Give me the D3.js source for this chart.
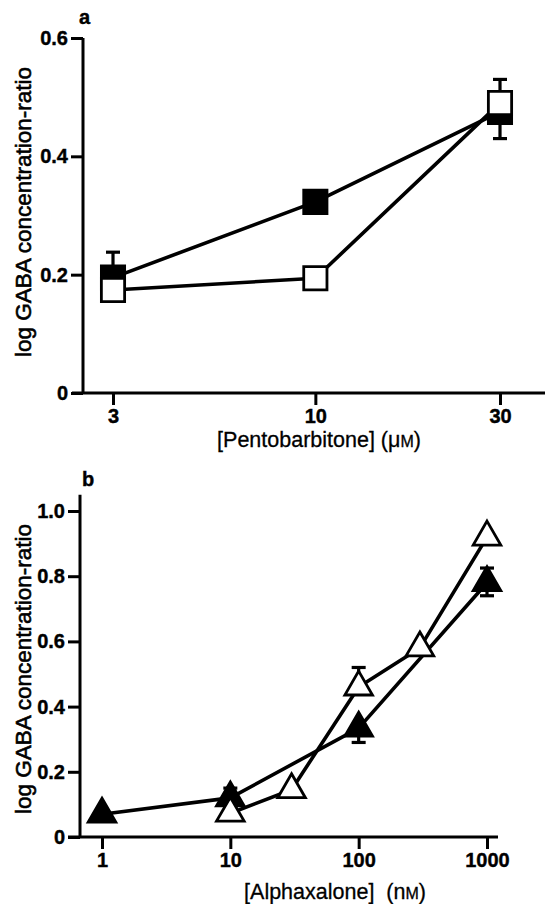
<!DOCTYPE html>
<html lang="en">
<head>
    <meta charset="UTF-8">
    <title>GABA concentration-ratio</title>
    <script src="https://cdnjs.cloudflare.com/ajax/libs/d3/7.8.5/d3.min.js"></script>
    <style>
        body { margin: 0; background: #fff; }
        svg { display: block; }
    </style>
</head>
<body>
    <div id="wrapper"></div>
    <script>
        // panel a: pentobarbitone (uM)
        const pentoDoses = [3, 10, 30]
        const pentoFilled = [0.195, 0.323, 0.475]
        const pentoFilledHi = [0.238, null, null]
        const pentoFilledLo = [null, null, 0.43]
        const pentoOpen = [0.174, 0.194, 0.49]
        const pentoOpenHi = [null, null, 0.53]
        const pentoOpenLo = [null, null, null]
        const pentoXTicks = [3, 10, 30]
        const pentoYTicks = [0, 0.2, 0.4, 0.6]

        // panel b: alphaxalone (nM)
        const alphaFilledDoses = [1, 10, 100, 1000]
        const alphaFilled = [0.07, 0.12, 0.334, 0.78]
        const alphaFilledHi = [null, 0.15, null, 0.825]
        const alphaFilledLo = [null, null, 0.29, 0.74]
        const alphaOpenDoses = [10, 30, 100, 300, 1000]
        const alphaOpen = [0.073, 0.145, 0.46, 0.58, 0.92]
        const alphaOpenHi = [null, null, 0.52, null, null]
        const alphaOpenLo = [null, null, null, null, null]
        const alphaXTicks = [1, 10, 100, 1000]
        const alphaYTicks = [0, 0.2, 0.4, 0.6, 0.8, 1.0]

        const fontFamily = '"Liberation Sans", Arial, Helvetica, sans-serif'

        const svg = d3.select('#wrapper')
            .append('svg')
                .attr('width', 553)
                .attr('height', 904)

        function drawPanel(opts) {
            const g = svg.append('g')
            const x = d3.scaleLog().domain(opts.xDomain).range(opts.xRange)
            const y = d3.scaleLinear().domain(opts.yDomain).range(opts.yRange)

            // axis lines
            g.append('line')
                .attr('x1', opts.axisLeft).attr('x2', opts.axisRight)
                .attr('y1', y(0)).attr('y2', y(0))
                .attr('stroke', '#000').attr('stroke-width', 3)
            g.append('line')
                .attr('x1', opts.yAxisX).attr('x2', opts.yAxisX)
                .attr('y1', y(opts.yTop)).attr('y2', y(0))
                .attr('stroke', '#000').attr('stroke-width', 3)

            const xAxis = g.append('g')
                .attr('transform', `translate(0,${y(0)})`)
                .call(d3.axisBottom(x).tickValues(opts.xTicks).tickFormat(d3.format('d'))
                    .tickSize(12).tickPadding(4))
            const yAxis = g.append('g')
                .attr('transform', `translate(${opts.yAxisX},0)`)
                .call(d3.axisLeft(y).tickValues(opts.yTicks)
                    .tickFormat(d => d === 0 ? '0' : d3.format('.1f')(d))
                    .tickSize(12).tickPadding(3))
            ;[xAxis, yAxis].forEach(ax => {
                ax.select('.domain').remove()
                ax.selectAll('.tick line').attr('stroke', '#000').attr('stroke-width', 3)
                ax.selectAll('.tick text')
                    .attr('fill', '#000')
                    .attr('stroke', '#000').attr('stroke-width', 0.4)
                    .style('font-family', fontFamily)
                    .style('font-weight', 'bold')
                    .style('font-size', '20px')
            })

            // axis titles
            g.append('text')
                .attr('transform', `translate(${opts.yLabelX},${opts.yLabelY}) rotate(-90)`)
                .attr('text-anchor', 'middle')
                .attr('stroke', '#000').attr('stroke-width', 0.6)
                .style('font-family', fontFamily)
                .style('font-size', '22.5px')
                .text('log GABA concentration-ratio')
            const xl = g.append('text')
                .attr('x', opts.xLabelX)
                .attr('y', opts.xLabelY)
                .attr('text-anchor', 'middle')
                .attr('stroke', '#000').attr('stroke-width', 0.3)
                .style('font-family', fontFamily)
                .style('font-size', '21.5px')
                .attr('xml:space', 'preserve')
            xl.append('tspan').text(opts.xLabel)
            xl.append('tspan').style('font-size', '16px').text('M')
            xl.append('tspan').text(')')

            g.append('text')
                .attr('x', opts.letterX)
                .attr('y', opts.letterY)
                .attr('stroke', '#000').attr('stroke-width', 0.4)
                .style('font-family', fontFamily)
                .style('font-weight', 'bold')
                .style('font-size', '20px')
                .text(opts.letter)

            const line = d3.line().x(d => x(d[0])).y(d => y(d[1]))
            const sym = d3.symbol().type(opts.symbol).size(opts.symbolSize)

            opts.series.forEach(s => {
                const pts = s.doses.map((d, i) => [d, s.values[i]])
                g.append('path')
                    .attr('d', line(pts))
                    .attr('fill', 'none')
                    .attr('stroke', '#000')
                    .attr('stroke-width', 3.6)
                    .attr('stroke-linejoin', 'round')
            })

            opts.series.forEach(s => {
                const eg = g.append('g')
                s.doses.forEach((d, i) => {
                    [s.hi[i], s.lo[i]].forEach(end => {
                        if (end === null) return
                        eg.append('line')
                            .attr('x1', x(d)).attr('x2', x(d))
                            .attr('y1', y(s.values[i])).attr('y2', y(end))
                            .attr('stroke', '#000').attr('stroke-width', 3.2)
                        eg.append('line')
                            .attr('x1', x(d) - 7).attr('x2', x(d) + 7)
                            .attr('y1', y(end)).attr('y2', y(end))
                            .attr('stroke', '#000').attr('stroke-width', 3.2)
                    })
                })
                g.selectAll(null)
                    .data(s.doses.map((d, i) => [d, s.values[i]]))
                    .enter().append('path')
                        .attr('d', sym)
                        .attr('transform', d => `translate(${x(d[0])},${y(d[1])})`)
                        .attr('fill', s.filled ? '#000' : '#fff')
                        .attr('stroke', '#000')
                        .attr('stroke-width', 2.8)
            })
        }

        drawPanel({
            xDomain: [3, 30], xRange: [113, 500],
            yDomain: [0, 0.6], yRange: [393, 38],
            yTop: 0.6, yAxisX: 83, axisLeft: 72, axisRight: 545,
            xTicks: pentoXTicks, yTicks: pentoYTicks,
            yLabelX: 31, yLabelY: 212,
            xLabelX: 319, xLabelY: 447, xLabel: '[Pentobarbitone] (\u03bc',
            letter: 'a', letterX: 79, letterY: 24,
            symbol: d3.symbolSquare, symbolSize: 540,
            series: [
                { doses: pentoDoses, values: pentoFilled, hi: pentoFilledHi, lo: pentoFilledLo, filled: true },
                { doses: pentoDoses, values: pentoOpen, hi: pentoOpenHi, lo: pentoOpenLo, filled: false }
            ]
        })

        drawPanel({
            xDomain: [1, 1000], xRange: [102, 487],
            yDomain: [0, 1], yRange: [837, 511],
            yTop: 1.05, yAxisX: 80, axisLeft: 68, axisRight: 498,
            xTicks: alphaXTicks, yTicks: alphaYTicks,
            yLabelX: 31, yLabelY: 669,
            xLabelX: 335, xLabelY: 899, xLabel: '[Alphaxalone]  (n',
            letter: 'b', letterX: 82, letterY: 486,
            symbol: d3.symbolTriangle, symbolSize: 330,
            series: [
                { doses: alphaFilledDoses, values: alphaFilled, hi: alphaFilledHi, lo: alphaFilledLo, filled: true },
                { doses: alphaOpenDoses, values: alphaOpen, hi: alphaOpenHi, lo: alphaOpenLo, filled: false }
            ]
        })
    </script>
</body>
</html>
